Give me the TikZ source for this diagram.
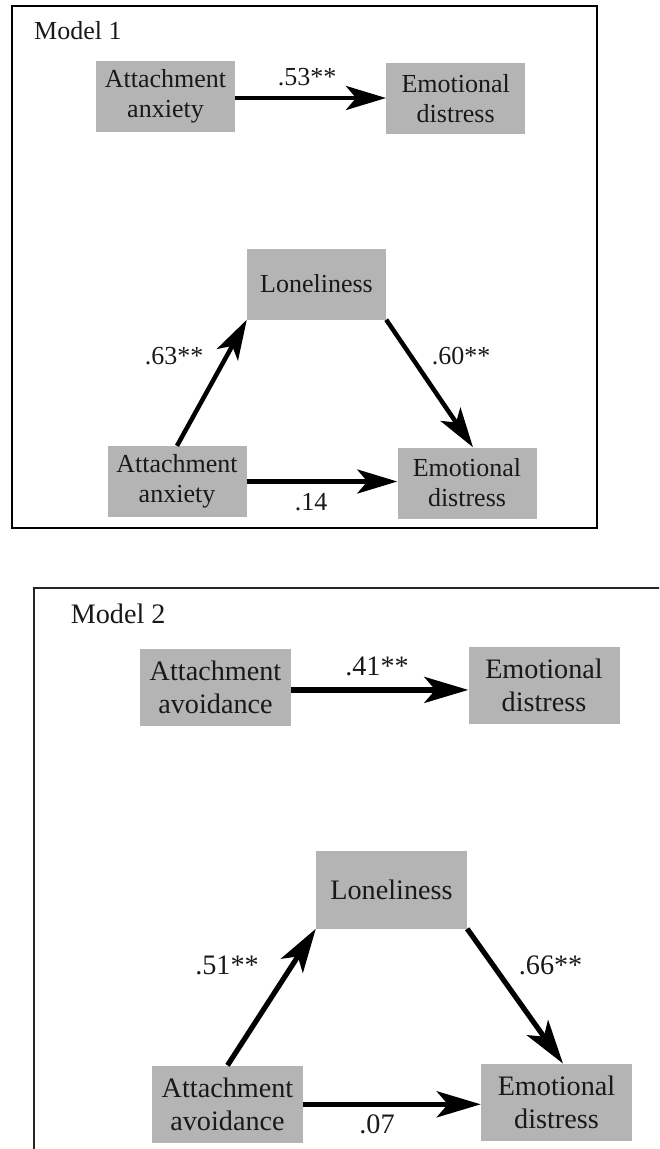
\documentclass[tikz,border=0pt]{standalone}
\usepackage{fontspec}
\setmainfont{Liberation Serif}
\usetikzlibrary{arrows.meta,calc}
\definecolor{boxgray}{RGB}{180,180,180}
\definecolor{ink}{RGB}{25,25,25}
\tikzset{
  boxa/.style={rectangle, fill=boxgray, inner sep=0pt, minimum width=139pt, minimum height=71pt,
    align=center, text=ink, font=\fontsize{26}{30}\selectfont},
  boxb/.style={rectangle, fill=boxgray, inner sep=0pt, minimum width=151pt, minimum height=77.5pt,
    align=center, text=ink, font=\fontsize{28.2}{33}\selectfont},
  coefa/.style={inner sep=0pt, anchor=base, text=ink, font=\fontsize{26}{30}\selectfont},
  coefb/.style={inner sep=0pt, anchor=base, text=ink, font=\fontsize{28.2}{33}\selectfont},
  arra/.style={line width=4.5pt, -{Stealth[length=40pt, width=24pt, inset=10pt]}},
  arrb/.style={line width=5.2pt, -{Stealth[length=44pt, width=26pt, inset=11pt]}},
  titlea/.style={inner sep=0pt, anchor=base west, text=ink, font=\fontsize{26}{30}\selectfont},
  titleb/.style={inner sep=0pt, anchor=base west, text=ink, font=\fontsize{28.2}{33}\selectfont},
}
\begin{document}
\begin{tikzpicture}[x=1pt, y=-1pt]
\useasboundingbox (0,0) rectangle (659,1149);
\clip (0,0) rectangle (659,1149);

% ---------- Model 1 ----------
\draw[line width=2.6pt, black] (12,6) rectangle (597,528);
\node[titlea] (m1) at (34,39.5) {Model 1};

\node[boxa] (a1t) at (165.5,96.5) {Attachment\\anxiety};
\node[boxa] (e1t) at (455.7,98.4) {Emotional\\distress};
\draw[arra] ([yshift=-1.5pt]a1t.east) -- ([yshift=-1.5pt]a1t.east -| e1t.west);
\node[coefa] (c53) at (307,85.5) {.53**};

\node[boxa] (l1) at (316.5,284) {Loneliness};
\node[boxa] (a1b) at (177,481.5) {Attachment\\anxiety};
\node[boxa] (e1b) at (467,483) {Emotional\\distress};
\draw[arra] (a1b.north) -- (l1.south west);
\draw[arra] (l1.south east) -- ([xshift=6pt]e1b.north);
\draw[arra] (a1b.east) -- (a1b.east -| e1b.west);
\node[coefa] (c63) at (174,364) {.63**};
\node[coefa] (c60) at (461,364) {.60**};
\node[coefa] (c14) at (311,510) {.14};

% ---------- Model 2 ----------
\draw[line width=1.8pt, black!85] (34,1160) -- (34,588) -- (670,588);
\node[titleb] (m2) at (70.6,623.5) {Model 2};

\node[boxb] (a2t) at (215.5,687.4) {Attachment\\avoidance};
\node[boxb] (e2t) at (544,685.4) {Emotional\\distress};
\draw[arrb] ([yshift=-2.5pt]a2t.east) -- ([yshift=-2.5pt]a2t.east -| e2t.west);
\node[coefb] (c41) at (377,675) {.41**};

\node[boxb] (l2) at (391.5,889.8) {Loneliness};
\node[boxb] (a2b) at (227.5,1104.3) {Attachment\\avoidance};
\node[boxb] (e2b) at (556.5,1102.5) {Emotional\\distress};
\draw[arrb] (a2b.north) -- (l2.south west);
\draw[arrb] (l2.south east) -- ([xshift=6.5pt]e2b.north);
\draw[arrb] (a2b.east) -- (a2b.east -| e2b.west);
\node[coefb] (c51) at (227,974.5) {.51**};
\node[coefb] (c66) at (550.6,974.5) {.66**};
\node[coefb] (c07) at (377,1133) {.07};
\end{tikzpicture}
\end{document}
